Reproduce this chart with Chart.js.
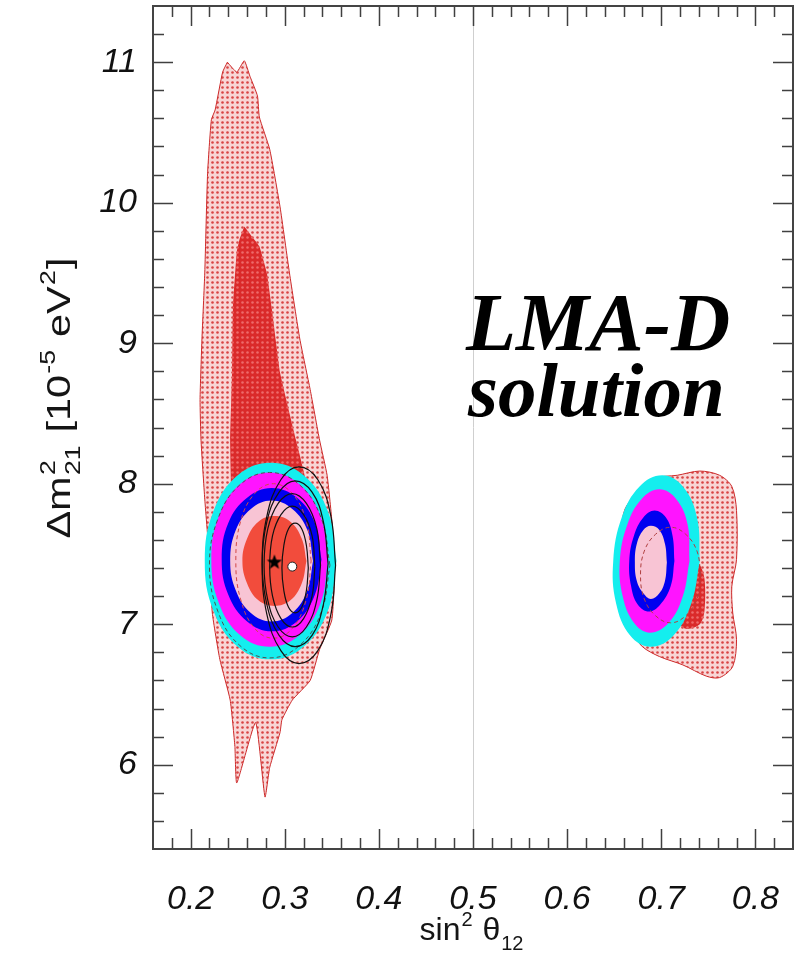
<!DOCTYPE html>
<html>
<head>
<meta charset="utf-8">
<script src="https://cdn.jsdelivr.net/npm/chart.js@4.4.1/dist/chart.umd.min.js"></script>
<style>
  html, body { margin: 0; padding: 0; background: #fff; }
</style>
</head>
<body>
<canvas id="plot" width="797" height="953"></canvas>
<script>
// axis ranges and tick labels
const xRange = [0.16, 0.84];
const yRange = [5.4, 11.4];
const xTicks = [0.2, 0.3, 0.4, 0.5, 0.6, 0.7, 0.8];
const yTicks = [6, 7, 8, 9, 10, 11];

// allowed regions, [sin2, dm2] pairs
const outerLeft = [[0.239,11.00],[0.249,10.93],[0.257,11.01],[0.263,10.90],[0.271,10.76],[0.273,10.61],[0.284,10.38],[0.295,9.97],[0.305,9.50],[0.316,9.03],[0.327,8.67],[0.337,8.31],[0.345,8.06],[0.350,7.74],[0.353,7.39],[0.350,7.03],[0.337,6.82],[0.327,6.60],[0.308,6.46],[0.297,6.32],[0.295,6.23],[0.284,5.98],[0.279,5.77],[0.269,6.30],[0.249,5.87],[0.247,6.13],[0.242,6.46],[0.231,6.75],[0.223,7.08],[0.220,7.46],[0.215,7.89],[0.211,8.31],[0.210,8.60],[0.212,9.03],[0.215,9.50],[0.218,10.21],[0.222,10.59],[0.226,10.66],[0.234,10.93],[0.239,11.00]];
const darkLeft = [[0.257,9.83],[0.265,9.76],[0.273,9.69],[0.281,9.50],[0.286,9.26],[0.295,8.79],[0.312,8.31],[0.322,8.03],[0.321,7.74],[0.311,7.46],[0.252,7.46],[0.244,7.74],[0.242,8.31],[0.244,8.79],[0.245,9.26],[0.249,9.65],[0.252,9.74],[0.257,9.83]];
const outerRight = [[0.677,7.96],[0.693,8.04],[0.717,8.06],[0.741,8.09],[0.762,8.06],[0.775,7.98],[0.780,7.81],[0.780,7.46],[0.775,7.27],[0.776,7.08],[0.780,6.89],[0.776,6.70],[0.762,6.62],[0.748,6.63],[0.723,6.71],[0.698,6.77],[0.680,6.84],[0.670,6.94],[0.661,7.17],[0.656,7.53],[0.661,7.81],[0.677,7.96]];
const darkRight = [[0.730,7.46],[0.741,7.42],[0.746,7.32],[0.746,7.10],[0.741,7.00],[0.725,6.97],[0.709,7.10],[0.709,7.39],[0.730,7.46]];

// sensitivity rings, left solution
const cyanLeft = [[0.355,7.45],[0.346,7.80],[0.320,8.06],[0.285,8.15],[0.250,8.06],[0.224,7.80],[0.215,7.45],[0.224,7.10],[0.250,6.84],[0.285,6.75],[0.320,6.84],[0.346,7.10],[0.355,7.45]];
const magentaLeft = [[0.346,7.46],[0.338,7.77],[0.315,8.00],[0.284,8.08],[0.253,8.00],[0.230,7.77],[0.222,7.46],[0.230,7.15],[0.253,6.92],[0.284,6.84],[0.315,6.92],[0.338,7.15],[0.346,7.46]];
const blueLeft = [[0.339,7.46],[0.332,7.72],[0.313,7.90],[0.286,7.97],[0.260,7.90],[0.240,7.72],[0.233,7.46],[0.240,7.21],[0.260,7.02],[0.286,6.95],[0.313,7.02],[0.332,7.21],[0.339,7.46]];
const pinkLeft = [[0.330,7.45],[0.324,7.67],[0.308,7.82],[0.286,7.88],[0.264,7.82],[0.248,7.67],[0.242,7.45],[0.248,7.24],[0.264,7.08],[0.286,7.02],[0.308,7.08],[0.324,7.24],[0.330,7.45]];
const redLeft = [[0.323,7.45],[0.318,7.61],[0.306,7.73],[0.289,7.77],[0.272,7.73],[0.260,7.61],[0.255,7.45],[0.260,7.29],[0.272,7.17],[0.289,7.13],[0.306,7.17],[0.318,7.29],[0.323,7.45]];
const dashLeftA = [[0.328,7.45],[0.323,7.73],[0.308,7.93],[0.288,8.00],[0.268,7.93],[0.253,7.73],[0.248,7.45],[0.253,7.18],[0.268,6.97],[0.288,6.90],[0.308,6.97],[0.323,7.18],[0.328,7.45]];
const dashLeftB = [[0.348,7.42],[0.339,7.75],[0.316,7.99],[0.284,8.08],[0.252,7.99],[0.229,7.75],[0.220,7.42],[0.229,7.09],[0.252,6.85],[0.284,6.76],[0.316,6.85],[0.339,7.09],[0.348,7.42]];

// black contours, left solution
const black1 = [[0.325,7.40],[0.323,7.56],[0.318,7.68],[0.311,7.72],[0.304,7.68],[0.299,7.56],[0.297,7.40],[0.299,7.24],[0.304,7.12],[0.311,7.08],[0.318,7.12],[0.323,7.24],[0.325,7.40]];
const black2 = [[0.332,7.41],[0.329,7.63],[0.320,7.78],[0.308,7.84],[0.296,7.78],[0.287,7.63],[0.284,7.41],[0.287,7.20],[0.296,7.04],[0.308,6.98],[0.320,7.04],[0.329,7.20],[0.332,7.41]];
const black3 = [[0.338,7.42],[0.334,7.68],[0.323,7.86],[0.308,7.93],[0.293,7.86],[0.282,7.68],[0.278,7.42],[0.282,7.17],[0.293,6.98],[0.308,6.91],[0.323,6.98],[0.334,7.17],[0.338,7.42]];
const black4 = [[0.346,7.43],[0.341,7.73],[0.329,7.94],[0.311,8.02],[0.294,7.94],[0.281,7.73],[0.276,7.43],[0.281,7.14],[0.294,6.92],[0.311,6.84],[0.329,6.92],[0.341,7.14],[0.346,7.43]];
const black5 = [[0.354,7.42],[0.349,7.77],[0.335,8.03],[0.315,8.12],[0.296,8.03],[0.281,7.77],[0.276,7.42],[0.281,7.07],[0.296,6.81],[0.315,6.72],[0.335,6.81],[0.349,7.07],[0.354,7.42]];

// sensitivity rings, dark-side solution
const cyanRight = [[0.741,7.45],[0.738,7.76],[0.723,7.98],[0.701,8.06],[0.677,7.98],[0.658,7.76],[0.649,7.45],[0.652,7.15],[0.667,6.92],[0.689,6.84],[0.713,6.92],[0.732,7.15],[0.741,7.45]];
const magentaRight = [[0.730,7.45],[0.728,7.71],[0.716,7.89],[0.698,7.96],[0.679,7.89],[0.664,7.71],[0.656,7.45],[0.659,7.20],[0.671,7.01],[0.688,6.94],[0.708,7.01],[0.723,7.20],[0.730,7.45]];
const blueRight = [[0.714,7.45],[0.712,7.63],[0.705,7.76],[0.693,7.81],[0.681,7.76],[0.671,7.63],[0.666,7.45],[0.668,7.27],[0.675,7.14],[0.687,7.09],[0.699,7.14],[0.710,7.27],[0.714,7.45]];
const pinkRight = [[0.706,7.44],[0.704,7.57],[0.698,7.67],[0.689,7.70],[0.681,7.67],[0.674,7.57],[0.672,7.44],[0.674,7.31],[0.681,7.22],[0.689,7.18],[0.698,7.22],[0.704,7.31],[0.706,7.44]];
const dashRight = [[0.742,7.35],[0.738,7.52],[0.726,7.64],[0.710,7.69],[0.694,7.64],[0.682,7.52],[0.678,7.35],[0.682,7.18],[0.694,7.06],[0.710,7.01],[0.726,7.06],[0.738,7.18],[0.742,7.35]];

// best fit markers
const starPoint = [[0.289, 7.44]];
const dotPoint = [[0.308, 7.41]];

const noteLines = ['LMA-D', 'solution'];

function dotted(base, dot) {
    const c = document.createElement('canvas');
    c.width = 5;
    c.height = 5;
    const g = c.getContext('2d');
    g.fillStyle = base;
    g.fillRect(0, 0, 5, 5);
    g.fillStyle = dot;
    g.beginPath();
    g.arc(2.5, 2.5, 1.3, 0, Math.PI * 2);
    g.fill();
    return g.createPattern(c, 'repeat');
}

function starMark(r) {
    const c = document.createElement('canvas');
    c.width = c.height = 2 * r + 2;
    const g = c.getContext('2d');
    g.beginPath();
    for (let i = 0; i < 10; i++) {
        const rad = i % 2 ? r * 0.42 : r;
        const ang = -Math.PI / 2 + i * Math.PI / 5;
        g.lineTo(r + 1 + rad * Math.cos(ang), r + 1 + rad * Math.sin(ang));
    }
    g.closePath();
    g.fillStyle = '#000';
    g.fill();
    return c;
}

const pts = arr => arr.map(([x, y]) => ({ x, y }));

function area(data, bg, border, tension) {
    return {
        data: pts(data), showLine: true, fill: 'shape', backgroundColor: bg,
        borderColor: border || 'rgba(0,0,0,0)', borderWidth: border ? 1 : 0,
        tension: tension, pointRadius: 0
    };
}

function outline(data, color, width, dash) {
    return {
        data: pts(data), showLine: true, fill: false, borderColor: color,
        borderWidth: width, borderDash: dash || [], tension: 0.4, pointRadius: 0
    };
}

const lightDots = dotted('#f8d6d6', '#d84444');
const darkDots = dotted('#da2a2a', '#ee6a6a');

// listed bottom layer first
const layers = [
    area(outerLeft, lightDots, '#cc2a2a', 0.15),
    area(outerRight, lightDots, '#cc2a2a', 0.3),
    area(darkLeft, darkDots, null, 0.1),
    area(darkRight, darkDots, null, 0.3),
    area(cyanLeft, '#14eeee', null, 0.4),
    area(magentaLeft, '#ff14ff', null, 0.4),
    area(blueLeft, '#0000f0', null, 0.4),
    area(pinkLeft, '#f8c4d4', null, 0.4),
    area(redLeft, '#f24c3c', null, 0.4),
    area(cyanRight, '#14eeee', null, 0.4),
    area(magentaRight, '#ff14ff', null, 0.4),
    area(blueRight, '#0000f0', null, 0.4),
    area(pinkRight, '#f8c4d4', null, 0.4),
    outline(dashLeftA, '#d04848', 1, [4, 3]),
    outline(dashLeftB, '#505050', 1, [4, 3]),
    outline(dashRight, '#b04040', 1, [4, 3]),
    outline(black1, '#111', 1.2),
    outline(black2, '#111', 1.2),
    outline(black3, '#111', 1.2),
    outline(black4, '#111', 1.2),
    outline(black5, '#111', 1.2),
    { data: pts(starPoint), pointStyle: starMark(8), pointRadius: 8 },
    { data: pts(dotPoint), pointStyle: 'circle', pointRadius: 4.5, backgroundColor: '#fff', borderColor: '#222', borderWidth: 1 }
];
layers.forEach((d, i) => { d.order = layers.length - i; });

const frameTicks = {
    id: 'frameTicks',
    afterDatasetsDraw(chart) {
        const { ctx, chartArea: a, scales: { x, y } } = chart;
        ctx.save();
        ctx.strokeStyle = '#404040';
        ctx.lineWidth = 1.5;
        ctx.beginPath();
        for (let i = 1; i < 34; i++) {
            const px = Math.round(x.getPixelForValue(xRange[0] + i * 0.02)) + 0.5;
            const len = i % 5 === 2 ? 20 : 11;
            ctx.moveTo(px, a.bottom); ctx.lineTo(px, a.bottom - len);
            ctx.moveTo(px, a.top); ctx.lineTo(px, a.top + len);
        }
        for (let j = 1; j < 30; j++) {
            const py = Math.round(y.getPixelForValue(yRange[0] + j * 0.2)) + 0.5;
            const len = j % 5 === 3 ? 20 : 11;
            ctx.moveTo(a.left, py); ctx.lineTo(a.left + len, py);
            ctx.moveTo(a.right, py); ctx.lineTo(a.right - len, py);
        }
        ctx.stroke();
        ctx.lineWidth = 2;
        ctx.strokeStyle = '#444';
        ctx.strokeRect(a.left, a.top, a.width, a.height);
        ctx.restore();
    }
};

function drawRich(ctx, parts, cx, base, size) {
    const small = Math.round(size * 0.64);
    const fontOf = s => s + 'px "Liberation Sans", Arial, sans-serif';
    const widths = parts.map(p => {
        if (p.t) { ctx.font = fontOf(size); return ctx.measureText(p.t).width; }
        ctx.font = fontOf(small);
        return Math.max(p.sup ? ctx.measureText(p.sup).width : 0, p.sub ? ctx.measureText(p.sub).width : 0) + 2;
    });
    let x = cx - widths.reduce((s, w) => s + w, 0) / 2;
    ctx.textAlign = 'left';
    ctx.textBaseline = 'alphabetic';
    parts.forEach((p, i) => {
        if (p.t) {
            ctx.font = fontOf(size);
            ctx.fillText(p.t, x, base);
        } else {
            ctx.font = fontOf(small);
            if (p.sup) ctx.fillText(p.sup, x + 1, base - size * 0.45);
            if (p.sub) ctx.fillText(p.sub, x + 1, base + size * 0.3);
        }
        x += widths[i];
    });
}

const titles = {
    id: 'titles',
    afterDraw(chart) {
        const ctx = chart.ctx;
        ctx.save();
        ctx.fillStyle = '#151515';
        drawRich(ctx, [{ t: 'sin' }, { sup: '2' }, { t: ' θ' }, { sub: '12' }], 472, 940, 32);
        ctx.save();
        ctx.translate(70, 398);
        ctx.rotate(-Math.PI / 2);
        ctx.scale(1.22, 1);
        drawRich(ctx, [{ t: 'Δm' }, { sup: '2', sub: '21' }, { t: ' [10' }, { sup: '-5' }, { t: ' eV' }, { sup: '2' }, { t: ']' }], 0, 0, 34);
        ctx.restore();
        ctx.fillStyle = '#000';
        ctx.textAlign = 'left';
        ctx.textBaseline = 'alphabetic';
        ctx.font = 'italic bold 82px "Liberation Serif", serif';
        ctx.fillText(noteLines[0], 466, 350);
        ctx.font = 'italic bold 77px "Liberation Serif", serif';
        ctx.fillText(noteLines[1], 468, 416);
        ctx.restore();
    }
};

const tickFont = { family: '"Liberation Sans", Arial, sans-serif', size: 34, style: 'italic' };
const noPad = s => { s.paddingLeft = 0; s.paddingRight = 0; s.paddingTop = 0; s.paddingBottom = 0; };

new Chart(document.getElementById('plot'), {
    type: 'scatter',
    data: { datasets: layers },
    options: {
        responsive: false,
        animation: false,
        layout: { autoPadding: false, padding: { top: 6, right: 4, left: 0, bottom: 0 } },
        plugins: { legend: { display: false }, tooltip: { enabled: false } },
        scales: {
            x: {
                type: 'linear', min: xRange[0], max: xRange[1],
                afterBuildTicks: s => { s.ticks = xTicks.map(v => ({ value: v })); },
                afterFit: s => { s.height = 104; noPad(s); },
                border: { display: false },
                grid: {
                    drawTicks: false, lineWidth: 1,
                    color: c => (c.tick && c.tick.value === 0.5 ? '#cfcfcf' : 'rgba(0,0,0,0)')
                },
                ticks: { padding: 30, autoSkip: false, maxRotation: 0, color: '#111', font: tickFont, callback: v => v.toFixed(1) }
            },
            y: {
                type: 'linear', min: yRange[0], max: yRange[1],
                afterBuildTicks: s => { s.ticks = yTicks.map(v => ({ value: v })); },
                afterFit: s => { s.width = 153; noPad(s); },
                border: { display: false },
                grid: { display: false, drawTicks: false },
                ticks: { padding: 16, autoSkip: false, color: '#111', font: tickFont, callback: v => String(v) }
            }
        }
    },
    plugins: [frameTicks, titles]
});
</script>
</body>
</html>
